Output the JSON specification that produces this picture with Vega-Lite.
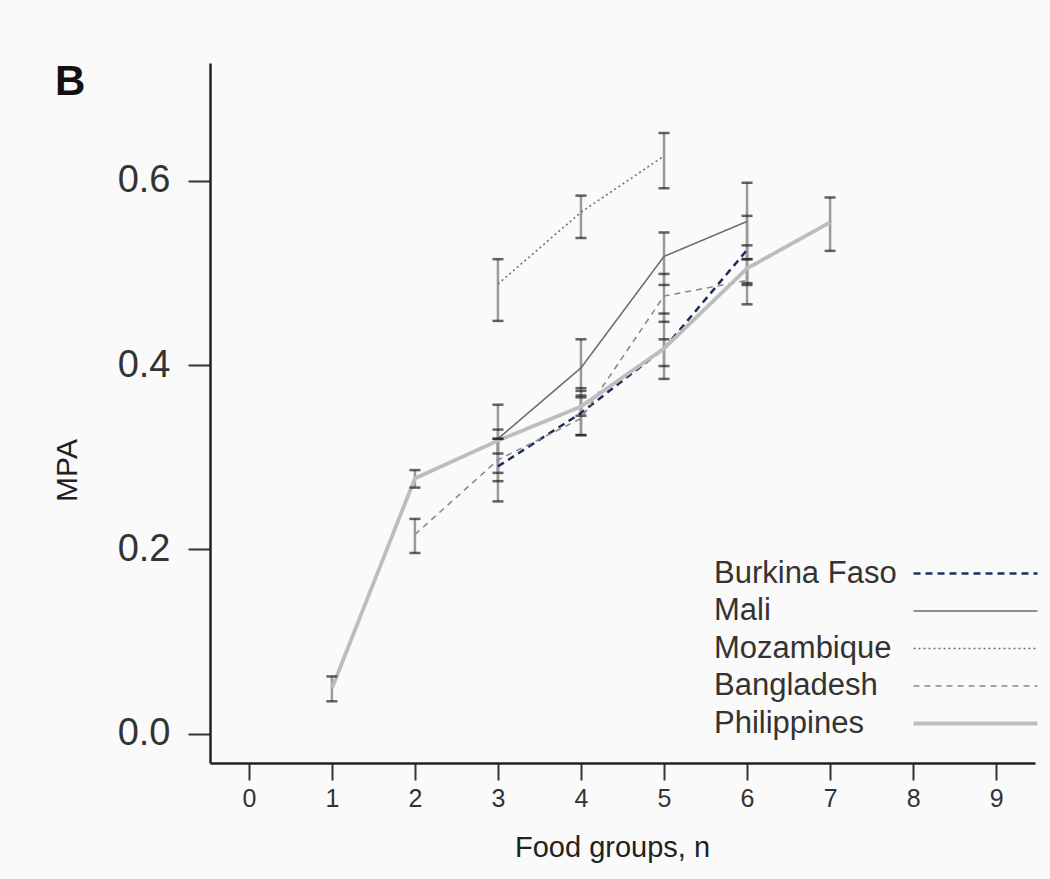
{
  "$schema": "https://vega.github.io/schema/vega-lite/v6.json",
  "autosize": {"type": "none"},
  "padding": {"left": 210, "top": 63, "right": 15, "bottom": 116},
  "width": 825,
  "height": 700,
  "background": "#fafafa",
  "title": {"text": "B", "anchor": "start", "frame": "group", "dx": -155, "dy": 74, "offset": 0, "baseline": "alphabetic", "font": "Liberation Sans", "fontSize": 42, "fontWeight": "bold", "color": "#111"},
  "data": {"values": [
    {"country": "Burkina Faso", "n": 3, "mpa": 0.290, "lo": 0.252, "hi": 0.320},
    {"country": "Burkina Faso", "n": 4, "mpa": 0.348, "lo": 0.324, "hi": 0.372},
    {"country": "Burkina Faso", "n": 5, "mpa": 0.418, "lo": 0.385, "hi": 0.456},
    {"country": "Burkina Faso", "n": 6, "mpa": 0.525, "lo": 0.487, "hi": 0.562},
    {"country": "Mali", "n": 3, "mpa": 0.320, "lo": 0.283, "hi": 0.357},
    {"country": "Mali", "n": 4, "mpa": 0.397, "lo": 0.365, "hi": 0.428},
    {"country": "Mali", "n": 5, "mpa": 0.518, "lo": 0.487, "hi": 0.544},
    {"country": "Mali", "n": 6, "mpa": 0.556, "lo": 0.515, "hi": 0.598},
    {"country": "Mozambique", "n": 3, "mpa": 0.488, "lo": 0.448, "hi": 0.515},
    {"country": "Mozambique", "n": 4, "mpa": 0.566, "lo": 0.538, "hi": 0.584},
    {"country": "Mozambique", "n": 5, "mpa": 0.627, "lo": 0.592, "hi": 0.652},
    {"country": "Bangladesh", "n": 2, "mpa": 0.216, "lo": 0.196, "hi": 0.233},
    {"country": "Bangladesh", "n": 3, "mpa": 0.297, "lo": 0.274, "hi": 0.320},
    {"country": "Bangladesh", "n": 4, "mpa": 0.342, "lo": 0.324, "hi": 0.375},
    {"country": "Bangladesh", "n": 5, "mpa": 0.475, "lo": 0.447, "hi": 0.499},
    {"country": "Bangladesh", "n": 6, "mpa": 0.492, "lo": 0.466, "hi": 0.530},
    {"country": "Philippines", "n": 1, "mpa": 0.049, "lo": 0.035, "hi": 0.062},
    {"country": "Philippines", "n": 2, "mpa": 0.277, "lo": 0.267, "hi": 0.286},
    {"country": "Philippines", "n": 3, "mpa": 0.318, "lo": 0.304, "hi": 0.330},
    {"country": "Philippines", "n": 4, "mpa": 0.355, "lo": 0.345, "hi": 0.367},
    {"country": "Philippines", "n": 5, "mpa": 0.418, "lo": 0.399, "hi": 0.428},
    {"country": "Philippines", "n": 6, "mpa": 0.505, "lo": 0.489, "hi": 0.515},
    {"country": "Philippines", "n": 7, "mpa": 0.555, "lo": 0.524, "hi": 0.582}
  ]},
  "encoding": {
    "x": {"field": "n", "type": "quantitative",
      "scale": {"domain": [-0.468, 9.468], "nice": false, "zero": false},
      "axis": {"values": [0,1,2,3,4,5,6,7,8,9], "grid": false, "title": "Food groups, n",
        "domainColor": "#222", "domainWidth": 2.5, "tickColor": "#333", "tickWidth": 2, "tickSize": 17,
        "labelFont": "Liberation Sans", "labelFontSize": 25, "labelColor": "#333", "labelPadding": 6,
        "titleFont": "Liberation Sans", "titleFontSize": 29, "titleFontWeight": "normal", "titleColor": "#222", "titlePadding": 22, "titleX": 402}},
    "y": {"type": "quantitative",
      "scale": {"domain": [-0.032, 0.728], "nice": false, "zero": false},
      "axis": {"values": [0, 0.2, 0.4, 0.6], "format": ".1f", "grid": false, "title": "MPA",
        "domainColor": "#222", "domainWidth": 2.5, "tickColor": "#333", "tickWidth": 2, "tickSize": 22,
        "labelFont": "Liberation Sans", "labelFontSize": 38, "labelColor": "#333", "labelPadding": 18,
        "titleFont": "Liberation Sans", "titleFontSize": 30, "titleFontWeight": "normal", "titleColor": "#222", "titlePadding": 35, "titleY": 407}}
  },
  "layer": [
    {"mark": {"type": "rule", "color": "#9a9a9a", "strokeWidth": 2.5},
     "encoding": {"y": {"field": "lo", "type": "quantitative"}, "y2": {"field": "hi"}}},
    {"mark": {"type": "line", "clip": false},
     "encoding": {
       "y": {"field": "mpa", "type": "quantitative"},
       "color": {"field": "country", "type": "nominal",
         "scale": {"domain": ["Burkina Faso", "Mali", "Mozambique", "Bangladesh", "Philippines"],
                   "range": ["#1c2f5c", "#6e6e6e", "#707070", "#8a8a8a", "#bdbdbd"]},
         "legend": {"orient": "none", "legendX": 493, "legendY": 495, "title": null,
           "labelFont": "Liberation Sans", "labelFontSize": 31, "labelColor": "#333", "labelLimit": 400,
           "symbolType": "M19.5,0L31.9,0", "symbolSize": 400, "symbolOffset": 0, "labelOffset": -20,
           "labelAlign": "left", "rowPadding": 5.5}},
       "strokeDash": {"field": "country", "type": "nominal",
         "scale": {"domain": ["Burkina Faso", "Mali", "Mozambique", "Bangladesh", "Philippines"],
                   "range": [[7, 5], [1, 0], [2, 3], [6, 5], [1, 0]]}},
       "strokeWidth": {"field": "country", "type": "ordinal",
         "scale": {"type": "ordinal", "domain": ["Burkina Faso", "Mali", "Mozambique", "Bangladesh", "Philippines"],
                   "range": [2.5, 1.6, 1.6, 1.6, 3.8]}},
       "order": {"field": "n"}
     }},
    {"mark": {"type": "tick", "orient": "horizontal", "color": "#222", "size": 11, "thickness": 2.5},
     "encoding": {"y": {"field": "lo", "type": "quantitative"}}},
    {"mark": {"type": "tick", "orient": "horizontal", "color": "#222", "size": 11, "thickness": 2.5},
     "encoding": {"y": {"field": "hi", "type": "quantitative"}}}
  ],
  "config": {"view": {"stroke": null}}
}
